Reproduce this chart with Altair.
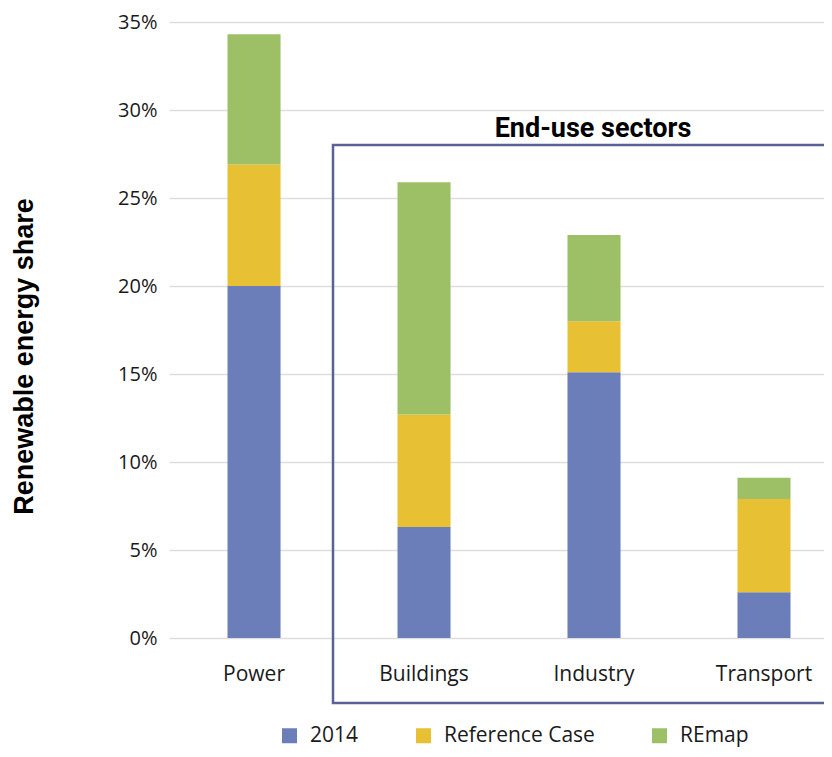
import altair as alt
import pandas as pd

sectors = ["Power", "Buildings", "Industry", "Transport"]
series = ["2014", "Reference Case", "REmap"]
share_2014 = [20.0, 6.3, 15.1, 2.6]
add_reference = [6.9, 6.4, 2.9, 5.3]
add_remap = [7.4, 13.2, 4.9, 1.2]
colors = ["#6c7eba", "#e8c033", "#9dc067"]
y_ticks = [0, 5, 10, 15, 20, 25, 30, 35]
box_title = ["End-use sectors"]

rows = []
for i, s in enumerate(sectors):
    for k, (name, vals) in enumerate(zip(series, [share_2014, add_reference, add_remap])):
        rows.append({"sector": s, "series": name, "value": vals[i], "order": k})
df = pd.DataFrame(rows)

bars = alt.Chart(df).mark_bar().encode(
    x=alt.X(
        "sector:N",
        sort=sectors,
        scale=alt.Scale(paddingInner=0.688, paddingOuter=0.2706, align=0.636),
        axis=alt.Axis(title=None, labelAngle=0, ticks=False, domain=False, grid=False,
                      labelFontSize=21, labelFont="Open Sans", labelColor="#1a1a1a",
                      labelPadding=25),
    ),
    y=alt.Y(
        "value:Q",
        stack="zero",
        scale=alt.Scale(domain=[0, 35], nice=False),
        axis=alt.Axis(values=y_ticks, labelExpr="datum.value + '%'", ticks=False, domain=False,
                      gridColor="#dedede", gridWidth=1.5, labelFontSize=20, labelFont="Open Sans",
                      labelColor="#1a1a1a", labelPadding=12,
                      title="Renewable energy share", titleFont="Liberation Sans",
                      titleFontSize=27, titleFontWeight="bold", titleColor="black",
                      titleX=-145, titleY=334, titleAlign="center", titleBaseline="middle"),
    ),
    color=alt.Color(
        "series:N",
        sort=series,
        scale=alt.Scale(domain=series, range=colors),
        legend=alt.Legend(orient="none", legendX=110, legendY=703, direction="horizontal",
                          title=None, symbolType="square", symbolSize=225, symbolStrokeWidth=0,
                          labelFontSize=21, labelFont="Open Sans", labelColor="#1a1a1a",
                          labelOffset=10, columnPadding=54),
    ),
    order=alt.Order("order:Q"),
)

box = alt.Chart(pd.DataFrame({"a": [0]})).mark_rect(
    fillOpacity=0, stroke="#5b6193", strokeWidth=2.5, clip=False
).encode(x=alt.value(164), x2=alt.value(720), y=alt.value(123), y2=alt.value(681))

label = alt.Chart(pd.DataFrame({"t": box_title})).mark_text(
    font="Roboto", fontSize=27, fontWeight="bold", color="black", align="center",
    baseline="alphabetic"
).encode(x=alt.value(424), y=alt.value(115), text="t:N")

chart = alt.layer(bars, box, label).properties(
    width=655, height=616,
    padding={"left": 161, "top": 14, "right": 0, "bottom": 111},
    autosize=alt.AutoSizeParams(type="none"),
).configure_view(stroke=None)

chart.save("out.html", embed_options={"renderer": "svg", "actions": False})
